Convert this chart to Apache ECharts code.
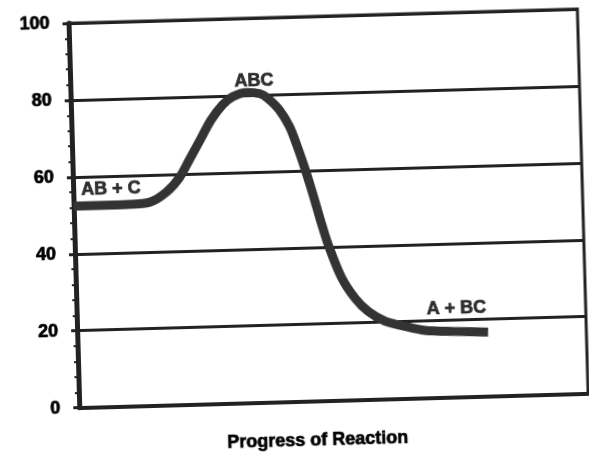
<!DOCTYPE html>
<html>
<head>
<meta charset="utf-8">
<script src="https://cdn.jsdelivr.net/npm/echarts@6/dist/echarts.min.js"></script>
<style>
html,body{margin:0;padding:0;background:#fff;overflow:hidden;}
#c{width:589px;height:454px;transform:rotate(-1.6deg);transform-origin:330px 215px;}
</style>
</head>
<body>
<div id="c"></div>
<script>
// Reaction progress (x, arbitrary 0-100) and energy (y)
const progress = [0, 11, 15, 18.3, 21, 23, 25.5, 27.5, 29.8, 31.8, 34.6, 37.2, 38.6, 40.9, 42.8, 44.2, 45.4, 46.7, 47.7, 48.6, 49.8, 52.2, 54.8, 57.3, 60.5, 64.4, 68.3, 74, 80.7];
const energy   = [52.4, 52.5, 52.9, 55.4, 59.2, 63.7, 69.4, 73.9, 77.7, 79.7, 80.7, 80.3, 79.2, 76.0, 71.6, 66.5, 61.5, 55.5, 50.5, 46.0, 40.5, 32.0, 26.4, 22.9, 20.3, 18.8, 17.6, 17.1, 16.7];
// Annotation labels
const labelText = ['AB + C', 'ABC', 'A + BC'];
const labelX = [7.4, 36.1, 74.6];
const labelY = [56.5, 83.5, 23.1];
const yTicks = [0, 20, 40, 60, 80, 100];
const xTitle = 'Progress of Reaction';

const curve = progress.map((p, i) => [p, energy[i]]);
const labels = labelText.map((t, i) => ({ value: [labelX[i], labelY[i]], name: t }));

const font = "'Liberation Sans', Arial, sans-serif";
const txt = { fontFamily: font, fontWeight: 'bold', color: '#000', textBorderColor: '#000', textBorderWidth: 0.7 };
const chart = echarts.init(document.getElementById('c'), null, { renderer: 'canvas' });
chart.setOption({
  animation: false,
  backgroundColor: '#fff',
  grid: { left: 74, top: 16, right: 6, bottom: 51, show: true, borderColor: '#222', borderWidth: 3, backgroundColor: 'transparent' },
  xAxis: {
    type: 'value', min: 0, max: 100,
    name: xTitle, nameLocation: 'middle', nameGap: 30,
    nameTextStyle: Object.assign({}, txt, { fontSize: 18, padding: [0, 34, 0, 0] }),
    axisLine: { show: true, lineStyle: { color: '#222', width: 4 } },
    axisTick: { show: false }, axisLabel: { show: false }, splitLine: { show: false }
  },
  yAxis: {
    type: 'value', min: yTicks[0], max: yTicks[yTicks.length - 1], interval: 20,
    axisLine: { show: true, lineStyle: { color: '#222', width: 5 } },
    axisTick: { show: true, inside: false, length: 6, lineStyle: { color: '#222', width: 3 } },
    minorTick: { show: true, splitNumber: 5, length: 4, lineStyle: { color: '#222', width: 2 } },
    axisLabel: Object.assign({}, txt, { fontSize: 18, margin: 19 }),
    splitLine: { show: true, lineStyle: { color: '#222', width: 3 } }
  },
  series: [
    {
      type: 'line', data: curve, smooth: 0.3, showSymbol: false, symbol: 'none',
      lineStyle: { color: '#333', width: 9, cap: 'butt', join: 'round' }, z: 5
    },
    {
      type: 'scatter', data: labels, symbolSize: 0, z: 6,
      label: Object.assign({ show: true, position: 'inside', formatter: p => p.name, fontSize: 18 }, txt)
    }
  ]
});
</script>
</body>
</html>
